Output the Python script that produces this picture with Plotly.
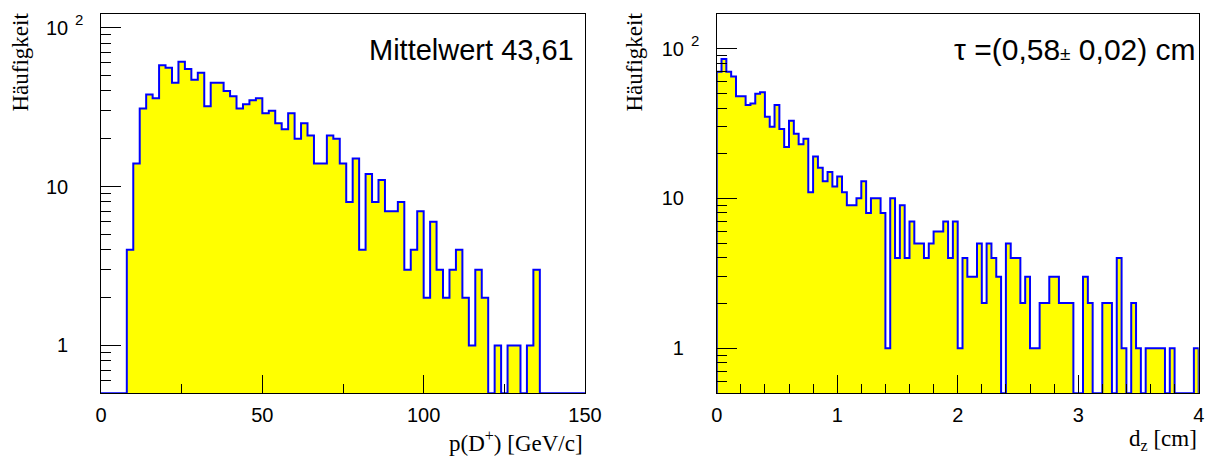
import numpy as np
import plotly.graph_objects as go

# ---------------- data ----------------
# left: momentum p(D+) histogram, 75 bins of 2 GeV/c from 0 to 150
p_bin_width = 2.0
p_counts = [0, 0, 0, 0, 4, 14, 31, 38, 36, 58,
            56, 45, 61, 55, 47, 52, 32, 45, 45, 40,
            37, 31, 33, 35, 36, 29, 30, 25, 23, 29,
            20, 25, 21, 14, 14, 21, 20, 14, 8, 15,
            4, 12, 8, 11, 7, 7, 8, 3, 4, 7,
            2, 6, 3, 2, 3, 4, 2, 1, 3, 2,
            0, 1, 0, 1, 1, 0, 1, 3, 0, 0,
            0, 0, 0, 0, 0]
# right: decay length d_z histogram, 100 bins of 0.04 cm from 0 to 4
d_bin_width = 0.04
d_counts = [70, 85, 70, 65, 48, 48, 42, 43, 50, 51,
            35, 30, 42, 29, 22, 33, 27, 23, 25, 11,
            19, 16, 13, 15, 12, 14, 11, 9, 9, 10,
            13, 8, 10, 10, 8, 1, 10, 4, 9, 4,
            7, 5, 5, 4, 5, 6, 6, 7, 4, 7,
            1, 4, 3, 3, 5, 2, 5, 4, 3, 0,
            5, 4, 4, 2, 3, 1, 1, 2, 2, 3,
            3, 2, 2, 2, 0, 0, 3, 2, 0, 0,
            2, 2, 0, 4, 1, 0, 2, 1, 0, 1,
            1, 1, 1, 0, 1, 0, 0, 0, 0, 1]

left_xticks = [0, 50, 100, 150]
right_xticks = [0, 1, 2, 3, 4]
y_ticks = [1, 10, 100]
y_ticktext = ["1", "10", "10"]
left_text = "Mittelwert 43,61"
right_text = "τ =(0,58<span style='font-size:19px'>±</span> 0,02) cm"

YMIN = 0.5
left_ymax = 2 * max(p_counts)
right_ymax = 2 * max(d_counts)

FILL = "#ffff00"
LINE = "#0000ff"
SANS = "Liberation Sans, Arial, sans-serif"
SERIF = "Liberation Serif, Times New Roman, serif"
PAD = "\u00a0" * 5  # gap between y tick labels and the frame

fig = go.Figure()


def add_hist(counts, width, xa, ya):
    counts = np.array(counts, dtype=float)
    edges = np.arange(len(counts) + 1) * width
    centers = edges[:-1] + width / 2
    fig.add_trace(go.Bar(x=centers, y=np.where(counts > 0, counts, np.nan),
                         width=width, marker=dict(color=FILL, line=dict(width=0)),
                         xaxis=xa, yaxis=ya, hoverinfo="skip"))
    floor = YMIN
    ys = np.where(counts > 0, counts, floor)
    # step outline: vertical at first edge, hv across bins, down at last edge
    fig.add_trace(go.Scatter(x=np.concatenate([[edges[0]], edges[:-1], [edges[-1]], [edges[-1]]]),
                             y=np.concatenate([[floor], ys, [ys[-1]], [floor]]),
                             mode="lines", line=dict(color=LINE, width=2, shape="hv"),
                             xaxis=xa, yaxis=ya, hoverinfo="skip", cliponaxis=True))


add_hist(p_counts, p_bin_width, "x", "y")
add_hist(d_counts, d_bin_width, "x2", "y2")

W, H = 1210, 457
plot_top, plot_bottom = 14, 393.3
ydom = [(H - plot_bottom) / H, (H - plot_top) / H]

common_x = dict(showline=True, linecolor="black", linewidth=1, mirror=True,
                ticks="inside", ticklen=18, tickcolor="black", tickwidth=1,
                showgrid=False, zeroline=False, automargin=False,
                tickfont=dict(family=SANS, size=20, color="black"),
                ticklabelstandoff=4)
common_y = dict(type="log", showline=True, linecolor="black", linewidth=1, mirror=True,
                ticks="inside", ticklen=20, tickcolor="black", tickwidth=1,
                showgrid=False, zeroline=False, automargin=False,
                tickmode="array", tickvals=y_ticks, ticktext=[t + PAD for t in y_ticktext],
                tickfont=dict(family=SANS, size=20, color="black"))
minor_y_vals = [0.6, 0.7, 0.8, 0.9] + list(range(2, 10)) + list(range(20, 100, 10))

fig.update_layout(
    width=W, height=H,
    margin=dict(l=0, r=0, t=0, b=0),
    paper_bgcolor="white", plot_bgcolor="white",
    showlegend=False, barmode="overlay", bargap=0,
    xaxis=dict(domain=[101 / W, 585 / W], range=[0, 150], anchor="y",
               tickmode="array", tickvals=left_xticks,
               minor=dict(ticks="inside", ticklen=9, tickcolor="black",
                          tickvals=[25, 75, 125]), **common_x),
    yaxis=dict(domain=ydom, range=[np.log10(YMIN), np.log10(left_ymax)], anchor="x",
               minor=dict(ticks="inside", ticklen=10, tickcolor="black",
                          tickvals=minor_y_vals), **common_y),
    xaxis2=dict(domain=[716.7 / W, 1198.7 / W], range=[0, 4], anchor="y2",
                tickmode="array", tickvals=right_xticks,
                minor=dict(ticks="inside", ticklen=9, tickcolor="black", dtick=0.2),
                **common_x),
    yaxis2=dict(domain=ydom, range=[np.log10(YMIN), np.log10(right_ymax)], anchor="x2",
                minor=dict(ticks="inside", ticklen=10, tickcolor="black",
                           tickvals=minor_y_vals), **common_y),
)

annotations = [
    # axis titles
    dict(text="p(D<sup>+</sup>) [GeV/c]", xref="x domain", yref="paper", x=1.0, y=(H - 441) / H,
         xanchor="right", yanchor="middle", showarrow=False,
         font=dict(family=SERIF, size=23, color="black")),
    dict(text="d<sub>z</sub> [cm]", xref="x2 domain", yref="paper", x=1.0, y=(H - 440) / H,
         xanchor="right", yanchor="middle", showarrow=False,
         font=dict(family=SERIF, size=23, color="black")),
    dict(text="Häufigkeit", xref="paper", yref="paper", x=20 / W, y=(H - 11) / H,
         xanchor="center", yanchor="top", textangle=-90, showarrow=False,
         font=dict(family=SERIF, size=23, color="black")),
    dict(text="Häufigkeit", xref="paper", yref="paper", x=634 / W, y=(H - 11) / H,
         xanchor="center", yanchor="top", textangle=-90, showarrow=False,
         font=dict(family=SERIF, size=23, color="black")),
    # statistics boxes
    dict(text=left_text, xref="x domain", yref="paper", x=(576 - 101) / (585 - 101), y=(H - 50) / H,
         xanchor="right", yanchor="middle", showarrow=False,
         font=dict(family=SANS, size=29, color="black")),
    dict(text=right_text, xref="x2 domain", yref="paper", x=1.0 - 1 / 482, y=(H - 49) / H,
         xanchor="right", yanchor="middle", showarrow=False,
         font=dict(family=SANS, size=30, color="black")),
    # exponent of the 10^2 tick labels
    dict(text="2", xref="x domain", yref="y", x=0, y=2, xshift=-22, yshift=8,
         xanchor="center", yanchor="middle", showarrow=False,
         font=dict(family=SANS, size=15, color="black")),
    dict(text="2", xref="x2 domain", yref="y2", x=0, y=2, xshift=-22, yshift=8,
         xanchor="center", yanchor="middle", showarrow=False,
         font=dict(family=SANS, size=15, color="black")),
]
fig.update_layout(annotations=annotations)

fig.write_html("out.html", config={"displayModeBar": False},
               post_script="document.body.style.margin='0px';")
